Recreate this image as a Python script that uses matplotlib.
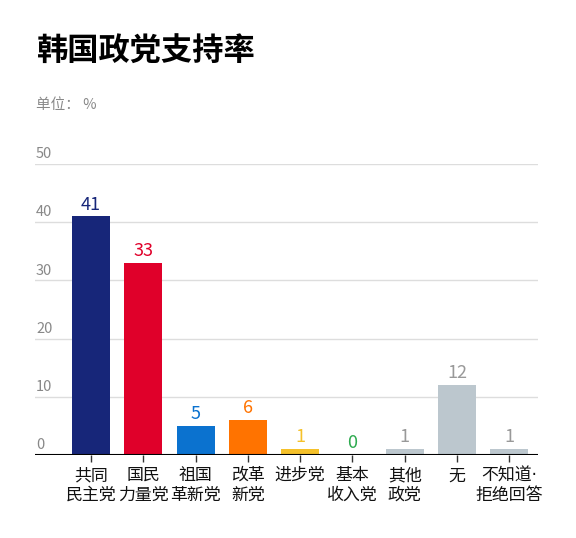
import matplotlib
matplotlib.use("Agg")
import matplotlib.pyplot as plt
from matplotlib.transforms import blended_transform_factory, offset_copy

plt.rcParams['font.family'] = ['Noto Sans CJK SC', 'DejaVu Sans']

categories = ["共同\n民主党", "国民\n力量党", "祖国\n革新党", "改革\n新党", "进步党",
              "基本\n收入党", "其他\n政党", "无", "不知道·\n拒绝回答"]
values = [41, 33, 5, 6, 1, 0, 1, 12, 1]
bar_colors = ["#172679", "#E0002A", "#0B72CF", "#FF7300", "#F5C12A",
              "#2DAA4F", "#BCC7CE", "#BCC7CE", "#BCC7CE"]
label_colors = ["#172679", "#E0002A", "#0B72CF", "#FF7300", "#F5C12A",
                "#2DAA4F", "#999999", "#999999", "#999999"]
yticks = [0, 10, 20, 30, 40, 50]

W, H = 576, 538
fig = plt.figure(figsize=(W / 100, H / 100), dpi=100)
ax = fig.add_axes([35 / W, 83 / H, (538 - 35) / W, (455 - 164) / H])

x = list(range(len(categories)))
ax.bar(x, values, width=0.727, color=bar_colors, zorder=3)
ax.set_xlim(-1.07, 8.55)
ax.set_ylim(0, 50)

for yv in yticks[1:]:
    ax.axhline(yv, color="#DDDDDD", lw=1, zorder=1)
ax.axhline(0, color="black", lw=1.5, zorder=4)

trans = blended_transform_factory(ax.transAxes, ax.transData)
for yv in yticks:
    ax.text(0.002, yv, str(yv), transform=offset_copy(trans, fig=fig, y=2, units='points'),
            ha='left', va='bottom', fontsize=10.5, color="#888888")

for xi, v, c in zip(x, values, label_colors):
    ax.annotate(str(v), (xi, v), xytext=(0, 2), textcoords='offset points',
                ha='center', va='bottom', fontsize=13, color=c)

for s in ax.spines.values():
    s.set_visible(False)
ax.set_yticks([])
ax.set_xticks(x)
ax.set_xticklabels(categories, fontsize=12.2, color="#111111", linespacing=1.12, va='top',
                   family=['DejaVu Sans', 'Noto Sans CJK SC'])
ax.tick_params(axis='x', length=5, width=1, color='#333333', pad=3)

fig.text(37 / W, 1 - 52 / H, "韩国政党支持率", fontsize=22.5, fontweight='bold',
         ha='left', va='center', color='black')
fig.text(36 / W, 1 - 105 / H, "单位： %", fontsize=10.5, ha='left', va='center', color="#888888")

fig.savefig("out.png", dpi=100)
